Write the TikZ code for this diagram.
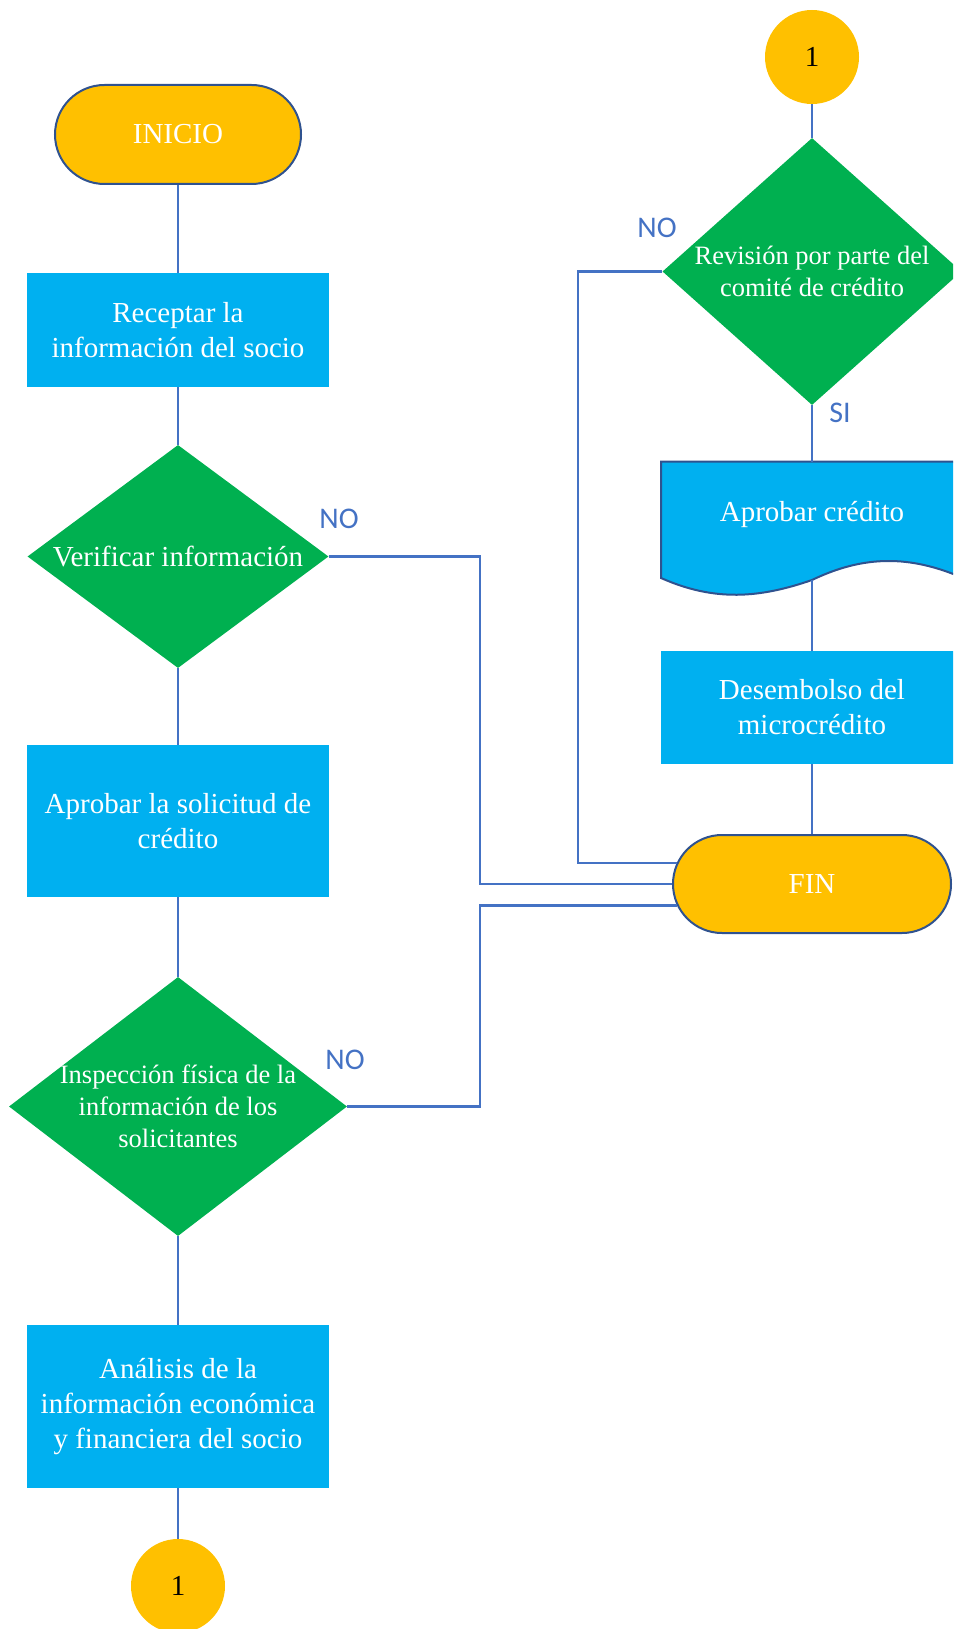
\documentclass[tikz,border=0pt]{standalone}
\usepackage{fontspec}
\setmainfont{Liberation Serif}
\newfontfamily\lblfont{Carlito}
\usetikzlibrary{shapes.geometric,shapes.misc}
\definecolor{ochre}{HTML}{FFC000}
\definecolor{skyfill}{HTML}{00B0F0}
\definecolor{greenfill}{HTML}{00B050}
\definecolor{linkblue}{HTML}{4472C4}
\definecolor{edgeblue}{HTML}{2F528F}

\begin{document}
\begin{tikzpicture}[x=1pt,y=-1pt,
  link/.style={draw=linkblue,line width=2.2pt},
  bigtext/.style={font=\fontsize{29}{35}\selectfont},
  smalltext/.style={font=\fontsize{26.5}{32}\selectfont},
  terminal/.style={rounded rectangle, fill=ochre, draw=edgeblue, line width=2pt,
    text=white, bigtext, inner sep=0pt},
  procbox/.style={rectangle, fill=skyfill, text=white, align=center, bigtext,
    minimum width=302pt, inner sep=0pt},
  decision/.style={diamond, fill=greenfill, inner sep=0pt},
  dtext/.style={text=white, align=center, inner sep=0pt},
  connector/.style={circle, fill=ochre, minimum size=94pt, inner sep=0pt, bigtext},
  lbl/.style={text=linkblue, font=\lblfont\fontsize{30}{36}\selectfont, inner sep=0pt}
]
\useasboundingbox (0,0) rectangle (953,1629);
\clip (0,0) rectangle (953,1629);

% left column
\node[terminal, minimum width=246pt, minimum height=99pt] (ini) at (178,134.5) {INICIO};
\node[procbox, minimum height=114pt] (rec) at (178,330) {Receptar la\\información del socio};
\node[decision, minimum width=301pt, minimum height=223pt] (ver) at (178,556.5) {};
\node[dtext, bigtext] (vert) at (178,556.5) {Verificar información};
\node[procbox, minimum height=152pt] (apr) at (178,821) {Aprobar la solicitud de\\crédito};
\node[decision, minimum width=338pt, minimum height=259pt] (ins) at (178,1106.5) {};
\node[dtext, smalltext] (inst) at (178,1106) {Inspección física de la\\información de los\\solicitantes};
\node[procbox, minimum height=163pt] (ana) at (178,1406.5) {Análisis de la\\información económica\\y financiera del socio};
\node[connector] (cb) at (178,1586) {1};

% right column
\node[connector] (ct) at (812,57) {1};
\node[decision, minimum width=299pt, minimum height=267pt] (rev) at (812,271.5) {};
\node[dtext, smalltext] (revt) at (812,271.5) {Revisión por parte del\\comité de crédito};

% document shape with wavy bottom
\path[fill=skyfill, draw=edgeblue, line width=2pt]
  (661,461.7) -- (963,461.7) -- (963,578)
  .. controls (910,555) and (864,555) .. (812,580)
  .. controls (760,598) and (715,602) .. (661,578) -- cycle;
\node[minimum width=302pt, minimum height=118.3pt, inner sep=0pt] (apc) at (812,520.85) {};
\node[dtext, bigtext] (apct) at (812,514.5) {Aprobar crédito};

\node[procbox, minimum height=113pt] (des) at (812,707.5) {Desembolso del\\microcrédito};
\node[terminal, minimum width=278pt, minimum height=98pt] (fin) at (812,884) {FIN};

% straight flow
\draw[link] (ini.south) -- (rec.north);
\draw[link] (rec.south) -- (ver.north);
\draw[link] (ver.south) -- (apr.north);
\draw[link] (apr.south) -- (ins.north);
\draw[link] (ins.south) -- (ana.north);
\draw[link] (ana.south) -- (cb.north);
\draw[link] (ct.south) -- (rev.north);
\draw[link] (rev.south) -- (apc.north);
\draw[link] (apc.south) -- (des.north);
\draw[link] (des.south) -- (fin.north);

% rejection paths to FIN
\coordinate (laneA) at (578,0);
\coordinate (laneB) at (480,0);
\draw[link] (rev.west) -| (laneA |- fin.171) -- (fin.171);
\draw[link] (ver.east) -| (laneB |- fin.west) -- (fin.west);
\draw[link] (ins.east) -| (laneB |- fin.189) -- (fin.189);

% branch labels
\node[lbl] (nover) at (339,519) {NO};
\node[lbl] (noins) at (345,1060) {NO};
\node[lbl] (norev) at (657,228) {NO};
\node[lbl] (sirev) at (840,413) {SI};
\end{tikzpicture}
\end{document}
